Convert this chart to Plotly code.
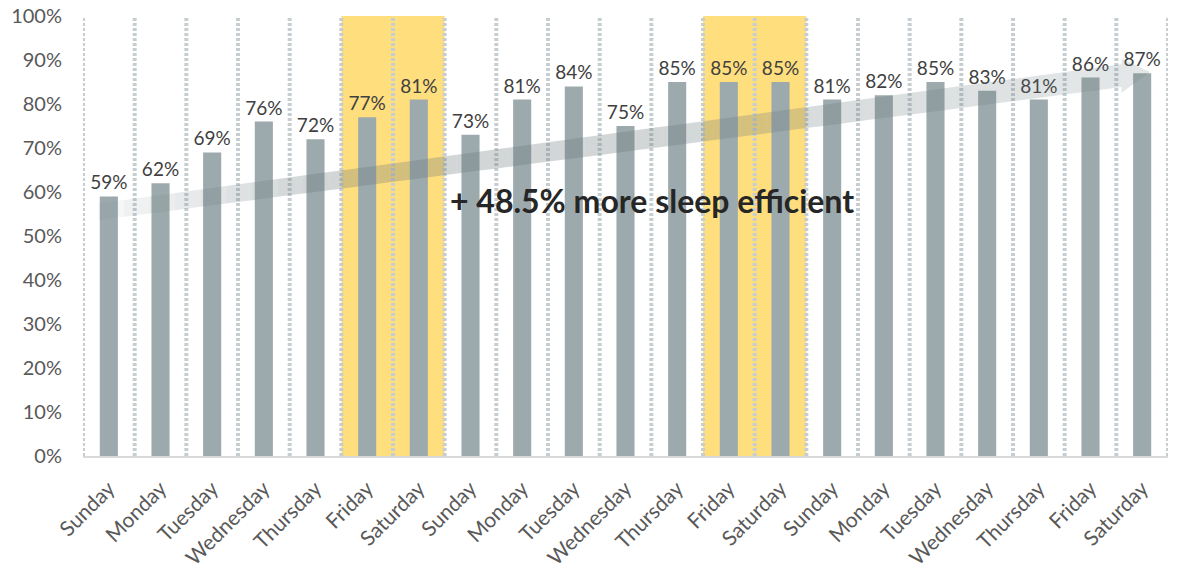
import plotly.graph_objects as go

# ---------------- data ----------------
days = ["Sunday", "Monday", "Tuesday", "Wednesday", "Thursday", "Friday", "Saturday"]
categories = days * 3
values = [59, 62, 69, 76, 72, 77, 81, 73, 81, 84, 75, 85, 85, 85, 81, 82, 85, 83, 81, 86, 87]
highlight_idx = [5, 6, 12, 13]          # highlighted Friday/Saturday bars
y_ticks = list(range(0, 101, 10))
y_tick_labels = [f"{v}%" for v in y_ticks]
note = "+ 48.5% more sleep efficient"

# ---------------- styles ----------------
FONT = "Lato"
BAR = "#9DAAAD"
YELLOW = "#FFDE7E"
GRID = "#C6CED2"

x = list(range(len(values)))

fig = go.Figure()
fig.add_trace(go.Bar(
    x=x, y=values, width=0.35,
    marker=dict(color=BAR, line=dict(width=0)),
    text=[f"{v}%" for v in values],
    textposition="outside",
    constraintext="none",
    textfont=dict(family=FONT, size=19, color="#404040"),
    cliponaxis=False,
    hoverinfo="skip",
))

shapes = []
# yellow weekend bands (contiguous groups of highlighted indices)
groups = []
for i in sorted(highlight_idx):
    if groups and i == groups[-1][-1] + 1:
        groups[-1].append(i)
    else:
        groups.append([i])
for g in groups:
    shapes.append(dict(type="rect", xref="x", yref="paper",
                       x0=g[0] - 0.5, x1=g[-1] + 0.5, y0=0, y1=1,
                       fillcolor=YELLOW, line=dict(width=0), layer="below"))

# dotted separators at every category boundary
for k in range(len(values) + 1):
    shapes.append(dict(type="line", xref="x", yref="paper",
                       x0=k - 0.5, x1=k - 0.5, y0=0, y1=1,
                       line=dict(color=GRID, width=4, dash="3px,2px"), layer="below"))

# ---- decorative trend arrow (gradient imitated by segments) ----
x_start, y_start = -0.2, 55.5
x_tip, y_tip = 20.15, 87.3
x_head = 19.6
half_start, half_end = 1.9, 2.6
head_half = 3.9


def cy(xx):
    return y_start + (y_tip - y_start) * (xx - x_start) / (x_tip - x_start)


def half(xx):
    return half_start + (half_end - half_start) * (xx - x_start) / (x_head - x_start)


def alpha(t):
    if t < 0.2:
        return 0.05 + 0.25 * (t / 0.2)
    if t < 0.55:
        return 0.30
    return 0.30 - 0.12 * ((t - 0.55) / 0.45)


N = 40
for k in range(N):
    xa = x_start + (x_head - x_start) * k / N
    xb = x_start + (x_head - x_start) * (k + 1) / N
    t = (k + 0.5) / N
    path = (f"M{xa},{cy(xa) - half(xa)} L{xb},{cy(xb) - half(xb)} "
            f"L{xb},{cy(xb) + half(xb)} L{xa},{cy(xa) + half(xa)} Z")
    shapes.append(dict(type="path", xref="x", yref="y", path=path,
                       fillcolor=f"rgba(105,120,124,{alpha(t):.3f})",
                       line=dict(width=0), layer="above"))
head_path = (f"M{x_head},{cy(x_head) - head_half} L{x_tip},{y_tip} "
             f"L{x_head},{cy(x_head) + head_half} Z")
shapes.append(dict(type="path", xref="x", yref="y", path=head_path,
                   fillcolor="rgba(105,120,124,0.18)",
                   line=dict(width=0), layer="above"))

fig.update_layout(
    width=1194, height=568,
    margin=dict(l=83, r=26, t=16, b=112, autoexpand=False),
    paper_bgcolor="white", plot_bgcolor="white",
    showlegend=False,
    font=dict(family=FONT, color="#595959"),
    shapes=shapes,
    xaxis=dict(
        range=[-0.5, len(values) - 0.5],
        tickvals=x, ticktext=categories, tickangle=-45,
        tickfont=dict(family=FONT, size=21, color="#595959"),
        showgrid=False, zeroline=False, automargin=False,
        showline=True, linecolor="#D9D9D9", linewidth=2,
        ticks="", ticklabelstandoff=10, fixedrange=True,
    ),
    yaxis=dict(
        range=[0, 100],
        tickvals=y_ticks, ticktext=y_tick_labels,
        tickfont=dict(family=FONT, size=20, color="#595959"),
        showgrid=False, zeroline=False, showline=False, automargin=False,
        ticks="", ticklabelstandoff=20, fixedrange=True,
    ),
    annotations=[dict(
        x=10.52, y=58, xref="x", yref="y", text=f"<b>{note}</b>",
        showarrow=False, xanchor="center", yanchor="middle",
        font=dict(family=FONT, size=32, color="#262626"),
    )],
)

fig.write_html("out.html")
